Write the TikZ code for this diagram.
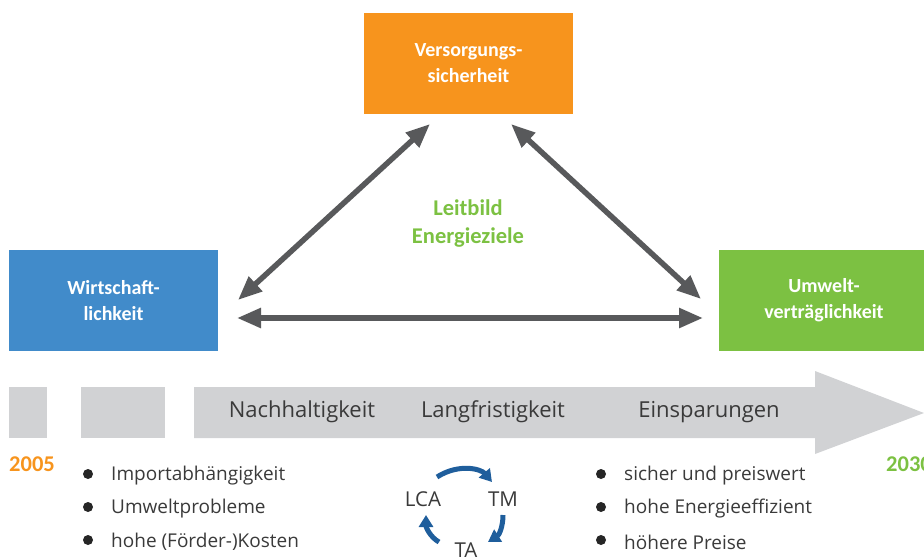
\documentclass[tikz,border=0pt]{standalone}
\usepackage{fontspec}
\setmainfont{Open Sans}
\newfontfamily\boxfont{Carlito}
\usetikzlibrary{arrows.meta}
\definecolor{orangeB}{HTML}{F7941D}
\definecolor{blueB}{HTML}{418BCA}
\definecolor{greenB}{HTML}{7CC142}
\definecolor{barGray}{HTML}{D1D2D4}
\definecolor{arrGray}{HTML}{58595B}
\definecolor{cycBlue}{HTML}{1F5E9C}
\definecolor{txt}{HTML}{3A3A3A}
\tikzset{
  goalbox/.style={minimum width=209pt, minimum height=101pt, inner sep=0pt, text=white, align=center, font=\boxfont\bfseries\fontsize{20}{26}\selectfont},
  dblarrow/.style={arrGray, line width=5.5pt, {Triangle[length=24pt,width=19pt]}-{Triangle[length=24pt,width=19pt]}},
  bartext/.style={text=txt, font=\fontsize{22}{26}\selectfont, inner sep=0pt},
  bullettext/.style={text=txt, font=\fontsize{19}{22}\selectfont, anchor=west, inner sep=0pt},
  dot/.style={circle, fill=black!85, inner sep=0pt, minimum size=10pt},
  cyc/.style={text=txt, font=\fontsize{20.5}{22}\selectfont, inner sep=1pt},
  cycarrow/.style={cycBlue, line width=5pt, -{Triangle[length=12pt,width=14pt]}},
  year/.style={font=\boxfont\bfseries\fontsize{22.5}{26}\selectfont, inner sep=0pt}
}
\begin{document}
\begin{tikzpicture}[x=1pt,y=-1pt]
\useasboundingbox (0,0) rectangle (924,558);
% goal boxes
\node[goalbox, fill=orangeB] (vs) at (468.5,63.5) {Versorgungs-\\sicherheit};
\node[goalbox, fill=blueB] (wi) at (113.5,300.5) {Wirtschaft-\\lichkeit};
\node[goalbox, fill=greenB, minimum width=210pt] (uv) at (824,300.5) {Umwelt-\\verträglichkeit};
\node[text=greenB, font=\boxfont\bfseries\fontsize{22.5}{28}\selectfont, align=center] (lb) at (468,224) {Leitbild\\Energieziele};
% arrow end points
\coordinate (aL1) at (238,300);
\coordinate (aT1) at (430,124);
\coordinate (aT2) at (511,124);
\coordinate (aR1) at (701,299);
\coordinate (aL2) at (237,318);
\coordinate (aR2) at (703,318);
\draw[dblarrow] (aL1) -- (aT1);
\draw[dblarrow] (aT2) -- (aR1);
\draw[dblarrow] (aL2) -- (aR2);
% timeline bar
\fill[barGray] (9,387) rectangle (47,438);
\fill[barGray] (81,387) rectangle (165,438);
\fill[barGray] (194,387) -- (815,387) -- (815,371) -- (924,413) -- (815,454) -- (815,438) -- (194,438) -- cycle;
\node[bartext] (n1) at (302,412) {Nachhaltigkeit};
\node[bartext] (n2) at (493,412) {Langfristigkeit};
\node[bartext] (n3) at (709,412) {Einsparungen};
\node[year, text=orangeB, anchor=west] (y1) at (9,464) {2005};
\node[year, text=greenB, anchor=east] (y2) at (932,464) {2030};
% bullets left
\node[dot] (b1) at (88,474) {};
\node[dot] (b2) at (88,507) {};
\node[dot] (b3) at (88,540) {};
\node[bullettext] (t1) at (111,476) {Importabhängigkeit};
\node[bullettext] (t2) at (111,509) {Umweltprobleme};
\node[bullettext] (t3) at (111,542) {hohe (Förder-)Kosten};
% bullets right
\node[dot] (b4) at (601,474) {};
\node[dot] (b5) at (601,507) {};
\node[dot] (b6) at (601,540) {};
\node[bullettext] (t4) at (624,476) {sicher und preiswert};
\node[bullettext] (t5) at (624,509) {hohe Energieeffizient};
\node[bullettext] (t6) at (624,542) {höhere Preise};
% cycle
\node[cyc] (lca) at (423,499) {LCA};
\node[cyc] (tm) at (503,499) {TM};
\node[cyc] (ta) at (466,550) {TA};
\draw[cycarrow] ([shift={(14,-22)}]lca.center) .. controls ([shift={(36,-36)}]lca.center) and ([shift={(58,-30)}]lca.center) .. ([shift={(-11,-17)}]tm.center);
\draw[cycarrow] ([shift={(0,16)}]tm.center) .. controls ([shift={(0,28)}]tm.center) and ([shift={(-4,36)}]tm.center) .. ([shift={(-15,43)}]tm.center);
\draw[cycarrow] ([shift={(-27,-8)}]ta.center) .. controls ([shift={(-36,-13)}]ta.center) and ([shift={(-40,-23)}]ta.center) .. ([shift={(-40,-35)}]ta.center);
\end{tikzpicture}
\end{document}
